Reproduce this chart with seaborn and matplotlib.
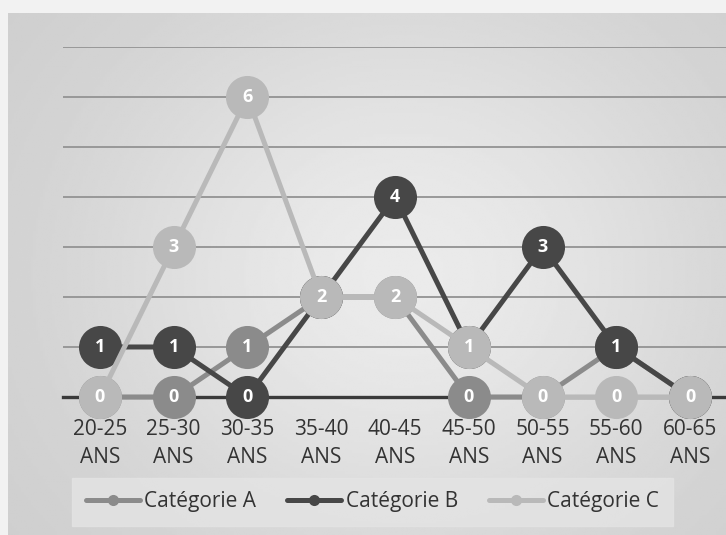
import numpy as np
import pandas as pd
import matplotlib
matplotlib.use("Agg")
import matplotlib.pyplot as plt
import seaborn as sns
from matplotlib.lines import Line2D

# Age brackets and counts per category
categories = ["20-25\nANS", "25-30\nANS", "30-35\nANS", "35-40\nANS", "40-45\nANS",
              "45-50\nANS", "50-55\nANS", "55-60\nANS", "60-65\nANS"]
serie_a = [0, 0, 1, 2, 2, 0, 0, 1, 0]
serie_b = [1, 1, 0, 2, 4, 1, 3, 1, 0]
serie_c = [0, 3, 6, 2, 2, 1, 0, 0, 0]
series_names = ["Catégorie A", "Catégorie B", "Catégorie C"]
colors = ["#8b8b8b", "#474747", "#b9b9b9"]

df = pd.concat([
    pd.DataFrame({"age": categories, "n": vals, "serie": name, "pos": range(len(categories))})
    for name, vals in zip(series_names, [serie_a, serie_b, serie_c])
], ignore_index=True)

sns.set_theme(style="white")
plt.rcParams["font.family"] = ["Open Sans", "DejaVu Sans"]

fig = plt.figure(figsize=(7.26, 5.35), dpi=100)
fig.patch.set_facecolor("#f2f2f2")

# Paper-like shaded background of the chart frame
bg = fig.add_axes([0.011, 0.0, 0.989, 0.975])
yy, xx = np.mgrid[0:1:200j, 0:1:300j]
shade = 0.80 + 0.12 * np.exp(-(((xx - 0.55) / 0.45) ** 2 + ((yy - 0.5) / 0.55) ** 2))
bg.imshow(shade, cmap="gray", vmin=0, vmax=1, aspect="auto", extent=[0, 1, 0, 1])
bg.set_axis_off()

ax = fig.add_axes([0.0868, 0.258, 0.9146, 0.654])
ax.patch.set_alpha(0)

for i, (name, col) in enumerate(zip(series_names, colors)):
    sub = df[df["serie"] == name]
    sns.lineplot(data=sub, x="pos", y="n", ax=ax, color=col, linewidth=3.6,
                 marker="o", markersize=31, markeredgewidth=0, legend=False,
                 zorder=4 + 2 * i)
    for x, v in zip(sub["pos"], sub["n"]):
        ax.text(x, v, str(v), ha="center", va="center", color="white",
                fontsize=13, fontweight="bold", zorder=5 + 2 * i)

for line in ax.lines:
    line.set_clip_on(False)

ax.set_xlim(-0.5, len(categories) - 0.5)
ax.set_ylim(0, 7)
ax.set_yticks(range(0, 8))
ax.yaxis.grid(True, color="#989898", linewidth=1.4)
ax.set_yticklabels([])
ax.tick_params(axis="y", length=0)
ax.set_xticks(range(len(categories)))
ax.set_xticklabels(categories, fontsize=15, color="#333333", linespacing=1.4)
ax.tick_params(axis="x", length=0, pad=16)
ax.set_xlabel("")
ax.set_ylabel("")
for side in ["top", "right", "left"]:
    ax.spines[side].set_visible(False)
ax.spines["bottom"].set_color("#3a3a3a")
ax.spines["bottom"].set_linewidth(2.4)
ax.spines["bottom"].set_zorder(3)

handles = [Line2D([0], [0], color=c, linewidth=3.6, marker="o", markersize=8,
                  markeredgewidth=0) for c in colors]
leg = fig.legend(handles, series_names, loc="center", bbox_to_anchor=(0.513, 0.062),
                 ncol=3, frameon=True, fontsize=15, handlelength=2.6,
                 columnspacing=1.5, handletextpad=0.2, borderpad=0.3)
leg.get_frame().set_facecolor("#e4e4e4")
leg.get_frame().set_edgecolor("#e4e4e4")
leg.get_frame().set_boxstyle("square", pad=0.35)
for t in leg.get_texts():
    t.set_color("#333333")

fig.savefig("out.png", dpi=100, facecolor=fig.get_facecolor())
